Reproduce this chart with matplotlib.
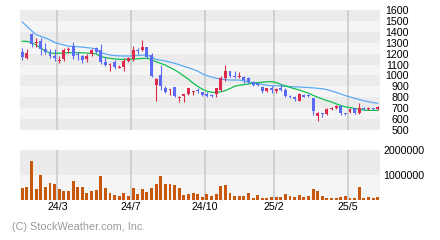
import matplotlib
matplotlib.use("Agg")
import matplotlib.pyplot as plt
import numpy as np

plt.rcParams['font.family'] = ['Liberation Sans', 'DejaVu Sans']

# ── weekly OHLC ───────────────────────────────────
opens = [1218, 1163, 1380, 1295, 1316, 1239, 1218, 1179, 1133, 1151,
         1233, 1270, 1194, 1179, 1148, 1194, 1249, 1233, 1123, 1096,
         1123, 1072, 1081, 1136, 1150, 1233, 1233, 1264, 1188, 913,
         1000, 885, 864, 895, 797, 815, 827, 848, 867, 845,
         830, 822, 827, 867, 974, 1041, 995, 983, 989, 974,
         937, 928, 891, 861, 882, 861, 882, 867, 812, 806,
         769, 821, 821, 790, 628, 653, 647, 690, 699, 720,
         653, 663, 699, 659, 699, 690, 699, 690]
highs = [1249, 1240, 1386, 1340, 1340, 1295, 1240, 1240, 1179, 1249,
         1264, 1307, 1212, 1188, 1194, 1240, 1264, 1288, 1172, 1111,
         1142, 1096, 1157, 1172, 1270, 1255, 1325, 1264, 1203, 974,
         1096, 903, 875, 897, 812, 830, 885, 858, 882, 848,
         851, 828, 885, 995, 1100, 1045, 1041, 1032, 995, 989,
         946, 934, 903, 882, 903, 882, 922, 882, 818, 812,
         836, 830, 830, 795, 668, 656, 700, 708, 729, 729,
         659, 699, 699, 745, 708, 714, 699, 720]
lows = [1142, 1148, 1264, 1264, 1188, 1197, 1160, 1136, 1111, 1136,
        1203, 1148, 1142, 1117, 1123, 1179, 1209, 1102, 1087, 1038,
        1063, 1066, 1041, 1127, 1136, 1197, 1227, 1160, 989, 766,
        867, 836, 818, 806, 760, 760, 824, 818, 836, 812,
        800, 806, 800, 861, 945, 983, 974, 974, 934, 928,
        904, 900, 843, 851, 843, 843, 861, 806, 790, 769,
        763, 800, 806, 640, 585, 622, 640, 680, 690, 640,
        637, 653, 650, 650, 680, 680, 680, 680]
closes = [1166, 1209, 1291, 1310, 1239, 1215, 1179, 1160, 1142, 1233,
          1246, 1179, 1185, 1142, 1179, 1233, 1218, 1126, 1099, 1105,
          1081, 1081, 1136, 1160, 1233, 1227, 1264, 1170, 995, 970,
          900, 848, 873, 815, 806, 827, 882, 858, 854, 824,
          812, 812, 882, 974, 1045, 995, 983, 995, 958, 943,
          913, 913, 861, 882, 867, 873, 867, 812, 800, 781,
          830, 806, 812, 670, 659, 643, 690, 699, 720, 653,
          643, 693, 659, 699, 690, 699, 690, 714]

# moving averages as drawn on the chart
ma_long = [1490, 1450, 1410, 1375, 1358, 1343, 1325, 1303, 1290, 1280,
           1269, 1267, 1264, 1260, 1255, 1250, 1242, 1207, 1198, 1188,
           1182, 1180, 1178, 1178, 1180, 1183, 1186, 1188, 1170, 1146,
           1140, 1132, 1122, 1112, 1098, 1084, 1070, 1056, 1040, 1015,
           998, 986, 975, 966, 962, 958, 958, 958, 950, 940,
           933, 925, 918, 910, 906, 906, 903, 900, 898, 896,
           894, 892, 889, 886, 882, 878, 870, 858, 845, 830,
           815, 803, 790, 779, 768, 759, 751, 745]
ma_short = [1313, 1313, 1300, 1282, 1250, 1225, 1205, 1203, 1203, 1206,
            1209, 1209, 1209, 1208, 1205, 1203, 1198, 1172, 1164, 1157,
            1152, 1148, 1148, 1148, 1150, 1153, 1156, 1158, 1145, 1125,
            1110, 1095, 1072, 1052, 1025, 995, 965, 930, 900, 875,
            856, 846, 843, 851, 862, 880, 900, 910, 916, 922,
            930, 935, 938, 942, 943, 935, 918, 905, 891, 878,
            867, 852, 838, 818, 800, 785, 769, 757, 740, 725,
            712, 705, 697, 690, 683, 680, 680, 680]

volumes = [480e3, 520e3, 1560e3, 440e3, 1000e3, 520e3, 680e3, 640e3, 440e3, 360e3,
           360e3, 760e3, 520e3, 520e3, 280e3, 360e3, 400e3, 960e3, 480e3, 280e3,
           200e3, 160e3, 280e3, 160e3, 480e3, 240e3, 440e3, 320e3, 480e3, 640e3,
           960e3, 640e3, 640e3, 600e3, 480e3, 200e3, 240e3, 280e3, 240e3, 120e3,
           240e3, 160e3, 240e3, 560e3, 600e3, 280e3, 160e3, 160e3, 160e3, 280e3,
           80e3, 200e3, 80e3, 80e3, 120e3, 120e3, 120e3, 240e3, 160e3, 120e3,
           200e3, 120e3, 160e3, 440e3, 360e3, 160e3, 80e3, 80e3, 80e3, 120e3,
           160e3, 80e3, 80e3, 520e3, 80e3, 120e3, 80e3, 120e3]

tick_weeks = [8, 24, 40, 55, 71]
tick_labels = ['24/3', '24/7', '24/10', '25/2', '25/5']

price_ticks = list(range(500, 1700, 100))
vol_ticks = [1000000, 2000000]

# ── colours ──────────────────────────────────────
UP = '#dc2a4c'
DOWN = '#5a6cf6'
VOL = '#c8580e'
MA_LONG = '#5aaaf5'
MA_SHORT = '#10c050'
BAND_DARK = '#ebebeb'
BAND_LIGHT = '#f5f5f5'
GRID = '#c8c8c8'

W, H = 440, 240
fig = plt.figure(figsize=(W / 100, H / 100), dpi=100)
fig.patch.set_facecolor('white')

ax_p = fig.add_axes([20 / W, 110 / H, 360 / W, 120 / H])
ax_v = fig.add_axes([20 / W, 40 / H, 360 / W, 50 / H])

x = np.arange(len(closes))
o, h, l, c = (np.array(a, dtype=float) for a in (opens, highs, lows, closes))
grid_x = np.array(tick_weeks) - 0.4


def style_axes(ax):
    for s in ax.spines.values():
        s.set_visible(False)
    ax.set_xlim(-0.5, len(closes) - 0.5)
    ax.tick_params(length=0, labelsize=7.7, colors='black')
    for gx in grid_x:
        ax.axvline(gx, color=GRID, lw=1.1, zorder=1)


# ── price panel ──────────────────────────────────
for k, lo in enumerate(range(500, 1600, 100)):
    ax_p.axhspan(lo, lo + 100, color=BAND_DARK if k % 2 == 0 else BAND_LIGHT,
                 lw=0, zorder=0)
style_axes(ax_p)
ax_p.set_ylim(500, 1600)

up = c >= o
colors = np.where(up, UP, DOWN)
ax_p.vlines(x, l, h, colors=colors, lw=0.8, zorder=3)
body_lo = np.minimum(o, c)
body_h = np.maximum(np.abs(c - o), 9)
ax_p.bar(x, body_h, bottom=body_lo, width=0.62, color=colors, lw=0, zorder=4)

ax_p.plot(x, ma_long, color=MA_LONG, lw=0.9, zorder=2)
ax_p.plot(x, ma_short, color=MA_SHORT, lw=0.9, zorder=2)

ax_p.set_xticks([])
ax_p.yaxis.tick_right()
ax_p.set_yticks(price_ticks)
ax_p.set_yticklabels([str(v) for v in price_ticks], ha='right')
ax_p.tick_params(axis='y', pad=20.9)

# ── volume panel ─────────────────────────────────
ax_v.axhspan(0, 1e6, color=BAND_LIGHT, lw=0, zorder=0)
ax_v.axhspan(1e6, 2e6, color=BAND_DARK, lw=0, zorder=0)
style_axes(ax_v)
ax_v.set_ylim(0, 2e6)
ax_v.bar(x, volumes, width=0.62, color=VOL, lw=0, zorder=3)

ax_v.yaxis.tick_right()
ax_v.set_yticks(vol_ticks)
ax_v.set_yticklabels([str(v) for v in vol_ticks])
ax_v.tick_params(axis='y', pad=2.2)
ax_v.set_xticks(grid_x)
ax_v.set_xticklabels(tick_labels)
ax_v.tick_params(axis='x', pad=1.5)

fig.text(12 / W, 1 - 227 / H, '(C) StockWeather.com, Inc.', color='#9a9a9a',
         fontsize=7.8, va='center', ha='left')

fig.savefig('out.png', dpi=100, facecolor='white')
